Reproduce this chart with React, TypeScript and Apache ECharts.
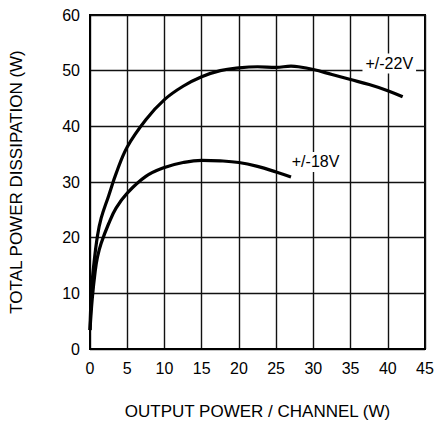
import React, { useEffect, useRef } from "react";
import * as echarts from "echarts";

const xTicks = [0, 5, 10, 15, 20, 25, 30, 35, 40, 45];
const yTicks = [0, 10, 20, 30, 40, 50, 60];

const curve22: [number, number][] = [
  [0, 3.4], [0.2, 10.5], [0.5, 15], [1, 20.3], [1.5, 23.5], [2.5, 27.5], [3.5, 31.5],
  [5, 36.3], [7.5, 41.2], [10, 44.8], [12.5, 47.2], [15, 48.9], [17.5, 50],
  [20, 50.5], [22.5, 50.7], [25, 50.6], [27, 50.8], [28, 50.7], [30, 50.2],
  [32.5, 49.3], [35, 48.4], [37.5, 47.5], [40, 46.4], [42, 45.3],
];

const curve18: [number, number][] = [
  [0, 3.4], [0.3, 9], [0.7, 14], [1, 16.5], [1.5, 19], [2.5, 22.5], [3.5, 25.3],
  [5, 28], [7.5, 31], [10, 32.6], [12.5, 33.5], [15, 33.9], [17.5, 33.8],
  [20, 33.5], [22.5, 32.8], [25, 31.8], [27, 30.9],
];

const label22 = { text: "+/-22V", at: [40.2, 51.3] };
const label18 = { text: "+/-18V", at: [30.3, 33.6] };

const FONT = "Liberation Sans, Arial, sans-serif";

export default function App() {
  const ref = useRef<HTMLDivElement>(null);
  useEffect(() => {
    if (!ref.current) return;
    const chart = echarts.init(ref.current, null, { renderer: "svg" });
    const mkLabel = (l: { text: string; at: number[] }) => ({
      symbol: "circle",
      symbolSize: 1,
      itemStyle: { color: "rgba(0,0,0,0)" },
      silent: true,
      data: [
        {
          coord: l.at,
          label: {
            show: true,
            position: "inside",
            formatter: l.text,
            color: "#000",
            fontSize: 16,
            fontFamily: FONT,
            backgroundColor: "#fff",
            padding: [2, 3],
          },
        },
      ],
    });
    chart.setOption({
      animation: false,
      backgroundColor: "#fff",
      grid: {
        left: 90, top: 15, right: 11, bottom: 76,
        outerBoundsMode: "none",
        containLabel: false,
        show: true, borderColor: "#000", borderWidth: 2,
      },
      xAxis: {
        type: "value",
        min: xTicks[0],
        max: xTicks[xTicks.length - 1],
        interval: 5,
        name: "OUTPUT POWER / CHANNEL (W)",
        nameLocation: "middle",
        nameGap: 54,
        nameTextStyle: { color: "#000", fontSize: 17, fontFamily: FONT },
        axisLine: { show: true, lineStyle: { color: "#000", width: 2 } },
        axisTick: { show: false },
        axisLabel: { color: "#000", fontSize: 16, fontFamily: FONT, margin: 11 },
        splitLine: { show: true, lineStyle: { color: "#111", width: 1.4 } },
      },
      yAxis: {
        type: "value",
        min: yTicks[0],
        max: yTicks[yTicks.length - 1],
        interval: 10,
        name: "TOTAL POWER DISSIPATION (W)",
        nameLocation: "middle",
        nameGap: 65,
        nameTextStyle: { color: "#000", fontSize: 17, fontFamily: FONT },
        axisLine: { show: true, lineStyle: { color: "#000", width: 2 } },
        axisTick: { show: false },
        axisLabel: { color: "#000", fontSize: 16, fontFamily: FONT, margin: 10 },
        splitLine: { show: true, lineStyle: { color: "#111", width: 1.4 } },
      },
      series: [
        {
          type: "line",
          data: curve22,
          smooth: 0.4,
          showSymbol: false,
          lineStyle: { color: "#000", width: 3.2 },
          z: 3,
          markPoint: mkLabel(label22),
        },
        {
          type: "line",
          data: curve18,
          smooth: 0.4,
          showSymbol: false,
          lineStyle: { color: "#000", width: 3.2 },
          z: 3,
          markPoint: mkLabel(label18),
        },
      ],
    });
    return () => chart.dispose();
  }, []);
  return <div ref={ref} style={{ width: 436, height: 425, position: "absolute", left: 0, top: 0 }} />;
}
